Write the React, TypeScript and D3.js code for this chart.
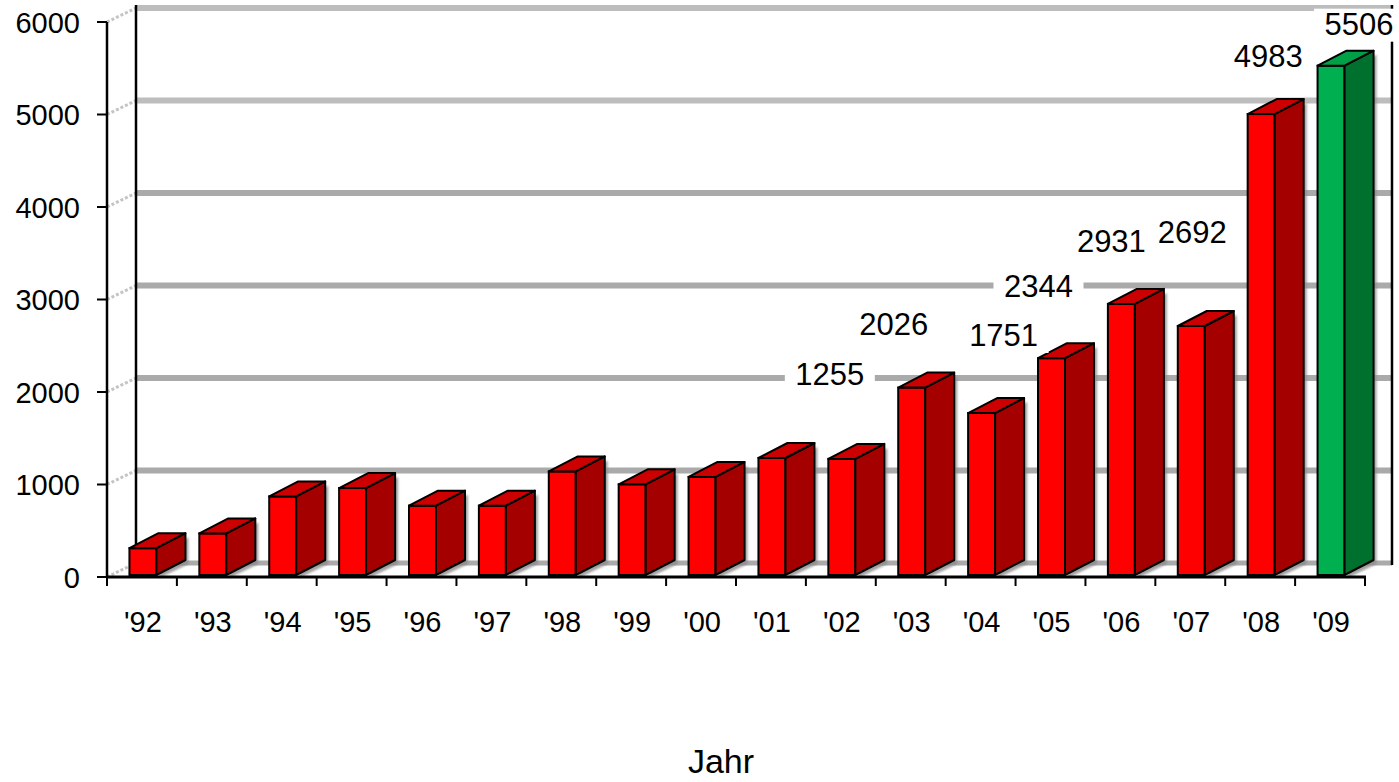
import React from 'react';
import * as d3 from 'd3';

const years = ["'92", "'93", "'94", "'95", "'96", "'97", "'98", "'99", "'00", "'01", "'02", "'03", "'04", "'05", "'06", "'07", "'08", "'09"];
const values = [290, 450, 850, 940, 750, 750, 1120, 980, 1060, 1265, 1255, 2026, 1751, 2344, 2931, 2692, 4983, 5506];
const yTicks = [0, 1000, 2000, 3000, 4000, 5000, 6000];
const labelledYears = ["'02", "'03", "'04", "'05", "'06", "'07", "'08", "'09"];
// Excel puts its 3d labels in odd spots, nudges
const labelNudge: [number, number][] = [[-12, -74], [-18, -53], [22, -67], [-13, -61], [-10, -52], [1, -83], [7, -47], [28, -31]];
const highlightYear = "'09";
const axisTitle = 'Jahr';

const W = 1399;
const H = 782;
const FONT = '"Liberation Sans", Arial, sans-serif';
const DX = 29;
const DY = -14;
const BAR_DY = -15;

const red = { front: '#ff0000', side: '#a50000', top: '#cc0000' };
const green = { front: '#00b050', side: '#00702e', top: '#00a046' };

export default function App() {
  const x = d3.scaleBand<string>().domain(years).range([107, 1365]).padding(0);
  const y = d3.scaleLinear().domain([0, 6000]).range([577, 22]);
  const bw = 27;
  const backX0 = 107 + DX;
  const backX1 = 1392;

  const bars = years.map((yr, i) => {
    const v = values[i];
    const x0 = (x(yr) as number) + (x.bandwidth() - bw) / 2 + 1;
    const x1 = x0 + bw;
    const yb = y(0) - 2;
    const yt = y(v) - 2;
    const c = yr === highlightYear ? green : red;
    const side = `${x1},${yt} ${x1 + DX},${yt + BAR_DY} ${x1 + DX},${yb + BAR_DY} ${x1},${yb}`;
    const top = `${x0},${yt} ${x0 + DX},${yt + BAR_DY} ${x1 + DX},${yt + BAR_DY} ${x1},${yt}`;
    const shadow = `${x1 + 3},${yt + 4} ${x1 + DX + 3},${yt + BAR_DY + 4} ${x1 + DX + 3},${yb + BAR_DY + 4} ${x1 + 3},${yb + 3}`;
    return (
      <g key={yr}>
        <polygon points={shadow} fill="#8a8a8a" opacity={0.8} filter="url(#blur)" />
        <rect x={x0} y={yt} width={bw} height={yb - yt} fill={c.front} stroke="#000" strokeWidth={2} />
        <polygon points={side} fill={c.side} stroke="#000" strokeWidth={2} strokeLinejoin="round" />
        <polygon points={top} fill={c.top} stroke="#000" strokeWidth={2} strokeLinejoin="round" />
      </g>
    );
  });

  const labels = labelledYears.map((yr, k) => {
    const i = years.indexOf(yr);
    const v = values[i];
    const cx = (x(yr) as number) + x.bandwidth() / 2 + 1 + labelNudge[k][0];
    const by = y(v) - 2 + labelNudge[k][1];
    return (
      <g key={'l' + yr}>
        <rect x={cx - 45} y={by - 26} width={90} height={33} fill="#fff" />
        <text x={cx} y={by} textAnchor="middle" fontSize={31} fontFamily={FONT} fill="#000">{v}</text>
      </g>
    );
  });

  return (
    <svg width={W} height={H} style={{ position: 'absolute', left: 0, top: 0, background: '#fff' }}>
      <defs>
        <filter id="blur" x="-20%" y="-20%" width="140%" height="140%">
          <feGaussianBlur stdDeviation={1.2} />
        </filter>
      </defs>

      {/* back wall grid */}
      {yTicks.map((t) => (
        <line key={'g' + t} x1={backX0} x2={backX1} y1={y(t) + DY} y2={y(t) + DY} stroke={t === 5000 || t === 6000 ? '#bdbdbd' : '#aaaaaa'} strokeWidth={t === 0 ? 5 : 6} />
      ))}
      {/* left wall grid */}
      {yTicks.map((t) => (
        <line key={'s' + t} x1={107} x2={backX0} y1={y(t)} y2={y(t) + DY} stroke="#c4c4c4" strokeWidth={3} strokeDasharray="3 2" />
      ))}
      <line x1={backX0} x2={backX0} y1={y(6000) + DY - 3} y2={y(0) + DY} stroke="#000" strokeWidth={2.5} />
      <line x1={backX1} x2={backX1} y1={y(6000) + DY - 3} y2={y(0) + DY + 2} stroke="#000" strokeWidth={2.5} />

      {bars}
      {labels}

      {/* front axes */}
      <line x1={107} x2={107} y1={y(6000)} y2={y(0) + 1} stroke="#000" strokeWidth={2.5} />
      <line x1={106} x2={1366} y1={y(0)} y2={y(0)} stroke="#000" strokeWidth={3} />
      {yTicks.map((t) => (
        <g key={'t' + t}>
          <line x1={97} x2={107} y1={y(t)} y2={y(t)} stroke="#000" strokeWidth={2} />
          <text x={80} y={y(t) + 10.5} textAnchor="end" fontSize={29} fontFamily={FONT}>{t}</text>
        </g>
      ))}
      {years.map((yr) => (
        <line key={'xt' + yr} x1={x(yr) as number} x2={x(yr) as number} y1={y(0)} y2={y(0) + 9} stroke="#000" strokeWidth={2} />
      ))}
      <line x1={1365} x2={1365} y1={y(0)} y2={y(0) + 9} stroke="#000" strokeWidth={2} />
      {years.map((yr) => (
        <text key={'xl' + yr} x={(x(yr) as number) + x.bandwidth() / 2 + 1} y={632} textAnchor="middle" fontSize={29} fontFamily={FONT}>{yr}</text>
      ))}
      <text x={721} y={773} textAnchor="middle" fontSize={34} fontFamily={FONT}>{axisTitle}</text>
    </svg>
  );
}
